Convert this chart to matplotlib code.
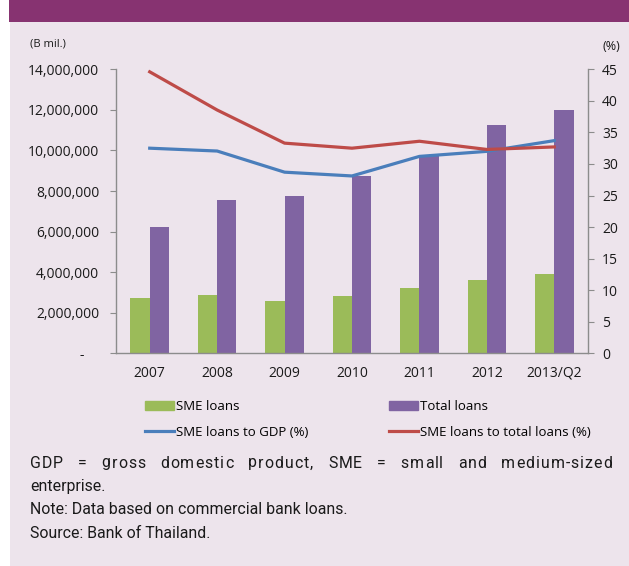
import matplotlib
matplotlib.use("Agg")
import matplotlib.pyplot as plt
import numpy as np
from matplotlib.patches import Rectangle
from matplotlib.lines import Line2D

# values
years = ["2007", "2008", "2009", "2010", "2011", "2012", "2013/Q2"]
sme_loans = [2740000, 2870000, 2580000, 2840000, 3230000, 3600000, 3890000]
total_loans = [6210000, 7540000, 7750000, 8740000, 9760000, 11250000, 11980000]
sme_to_gdp = [32.5, 32.05, 28.7, 28.1, 31.2, 32.0, 33.7]
sme_to_total = [44.6, 38.55, 33.3, 32.5, 33.6, 32.3, 32.7]

BG = "#ede4ec"
BANNER = "#873371"
GREEN = "#9bbb59"
PURPLE = "#8064a2"
BLUE = "#4a7ebb"
RED = "#be4b48"
AXCOL = "#8c8c8c"
TXT = "#1a1a1a"

W, H = 629, 566
fig = plt.figure(figsize=(W / 100, H / 100), dpi=100)
fig.patch.set_facecolor("white")

# background panel and banner
fig.patches.append(Rectangle((10 / W, 0), 1, 1 - 22 / H, transform=fig.transFigure,
                             facecolor=BG, edgecolor="none", zorder=-10))
fig.patches.append(Rectangle((9 / W, 1 - 22 / H), 1, 22 / H, transform=fig.transFigure,
                             facecolor=BANNER, edgecolor="none", zorder=-10))

ax = fig.add_axes([116 / W, 1 - 353.3 / H, 472 / W, 284 / H])
ax.set_facecolor("none")
x = np.arange(len(years))
bw = 0.285
ax.bar(x - bw / 2, sme_loans, bw, color=GREEN, zorder=2)
ax.bar(x + bw / 2, total_loans, bw, color=PURPLE, zorder=2)
ax.set_xlim(-0.5, len(years) - 0.5)
ax.set_ylim(0, 14000000)
ax.set_yticks(np.arange(0, 14000001, 2000000))
ax.set_yticklabels(["-    " if v == 0 else "{:,}".format(v) for v in range(0, 14000001, 2000000)])
ax.set_xticks(x)
ax.set_xticklabels(years)

ax2 = ax.twinx()
ax2.plot(x, sme_to_gdp, color=BLUE, lw=2.3, zorder=3)
ax2.plot(x, sme_to_total, color=RED, lw=2.3, zorder=3)
ax2.set_ylim(0, 45)
ax2.set_yticks(range(0, 46, 5))

for a in (ax, ax2):
    for s in a.spines.values():
        s.set_visible(False)
    for lab in a.get_yticklabels() + a.get_xticklabels():
        lab.set_fontfamily("Open Sans")
        lab.set_fontsize(10)
        lab.set_color(TXT)
ax.spines["left"].set_visible(True)
ax.spines["bottom"].set_visible(True)
ax2.spines["right"].set_visible(True)
for s in (ax.spines["left"], ax.spines["bottom"], ax2.spines["right"]):
    s.set_color(AXCOL)
    s.set_linewidth(1.0)
ax.tick_params(axis="y", length=4, color=AXCOL, pad=8)
ax.tick_params(axis="x", length=0, pad=9)
ax2.tick_params(axis="y", length=4, color=AXCOL, pad=6)

fig.text(30 / W, 1 - 44 / H, "(B mil.)", fontfamily="Open Sans", fontsize=8, color=TXT, va="center")
fig.text(620 / W, 1 - 47 / H, "(%)", fontfamily="Open Sans", fontsize=9, color=TXT, va="center", ha="right")

# legend
handles = [Rectangle((0, 0), 1, 1, color=GREEN),
           Line2D([], [], color=BLUE, lw=2.3),
           Rectangle((0, 0), 1, 1, color=PURPLE),
           Line2D([], [], color=RED, lw=2.3)]
labels = ["SME loans", "SME loans to GDP (%)", "Total loans", "SME loans to total loans (%)"]
fig.legend(handles, labels, ncol=2, loc="upper left", bbox_to_anchor=(145 / W, 1 - 400 / H),
           frameon=False, prop=dict(family="Open Sans", size=9.5), handlelength=2.2,
           handleheight=0.6, handletextpad=0.15, columnspacing=6.1, labelspacing=0.95,
           borderpad=0, borderaxespad=0)

# footnotes
nfont = dict(family="Roboto", size=11.4, color=TXT)
fig.canvas.draw()
r = fig.canvas.get_renderer()

# first line is justified and letter-spaced, so place it char by char
words = "GDP = gross domestic product, SME = small and medium-sized".split()
x0, x1 = 30, 612
track = 1.0
char_w = {}
for ch in set("".join(words)):
    t = fig.text(0, 0, "x" + ch + "x", **nfont)
    t2 = fig.text(0, 0, "xx", **nfont)
    char_w[ch] = t.get_window_extent(r).width - t2.get_window_extent(r).width
    t.remove()
    t2.remove()
word_w = [sum(char_w[c] for c in w) + track * (len(w) - 1) for w in words]
gap = (x1 - x0 - sum(word_w)) / (len(words) - 1)
cx = x0
for w, ww in zip(words, word_w):
    px = cx
    for c in w:
        fig.text(px / W, 1 - 463 / H, c, va="center", **nfont)
        px += char_w[c] + track
    cx += ww + gap

for txt, yy in [("enterprise.", 486), ("Note: Data based on commercial bank loans.", 510),
                ("Source: Bank of Thailand.", 533)]:
    fig.text(x0 / W, 1 - yy / H, txt, va="center", **nfont)

fig.savefig("out.png", dpi=100, facecolor=fig.get_facecolor())
